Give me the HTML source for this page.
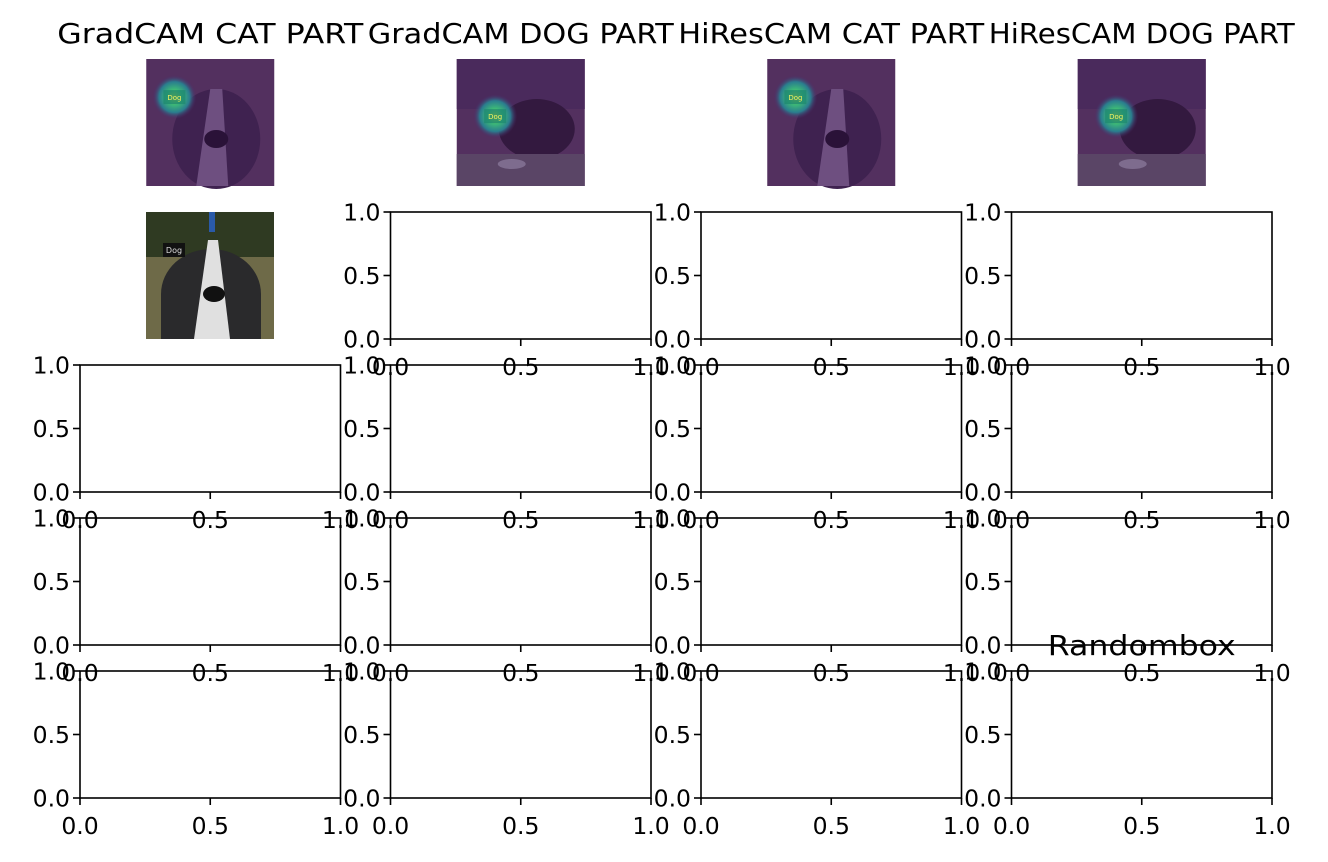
<!DOCTYPE html>
<html><head><meta charset="utf-8"><style>
html,body{margin:0;padding:0;background:#fff;}
svg{display:block;font-family:"DejaVu Sans","Liberation Sans",sans-serif;}
</style></head><body>
<svg id="fig" width="1328" height="862" viewBox="0 0 1328 862" xmlns="http://www.w3.org/2000/svg">
<defs>
<radialGradient id="heat" cx="0.5" cy="0.5" r="0.5">
<stop offset="0" stop-color="#e8e41c"/><stop offset="0.35" stop-color="#3cb878"/><stop offset="0.7" stop-color="#2a7d8e"/><stop offset="1" stop-color="#4a2a6a" stop-opacity="0"/>
</radialGradient>
</defs>
<g id="titles"></g>
<g id="images"></g>
<g id="axes"></g>
</svg>
<script>
const titles = ["GradCAM CAT PART","GradCAM DOG PART","HiResCAM CAT PART","HiResCAM DOG PART"];
const yTicks = [0.0, 0.5, 1.0];
const xTicks = [0.0, 0.5, 1.0];
const tickLabels = ["0.0","0.5","1.0"];
const colLeft = [80, 390.5, 701, 1011.5];
const rowTop = [59, 212, 365, 518, 671];
const AW = 260.5, AH = 127;
const NS = "http://www.w3.org/2000/svg";
function mk(tag, attrs, parent){const e=document.createElementNS(NS,tag);for(const k in attrs)e.setAttribute(k,attrs[k]);parent.appendChild(e);return e;}
const tg=document.getElementById('titles'), ig=document.getElementById('images'), ag=document.getElementById('axes');
titles.forEach((t,i)=>{
  const cx=colLeft[i]+AW/2;
  const e=mk('text',{x:cx,y:43,'text-anchor':'middle','font-size':28,textLength:306,lengthAdjust:'spacingAndGlyphs',fill:'#000'},tg);
  
  
  e.textContent=t;
});
const heatPos=[[0.22,0.3],[0.3,0.45],[0.22,0.3],[0.3,0.45]];
const dogScene=[true,false,true,false];
for(let i=0;i<4;i++){
  const x=colLeft[i]+AW/2-64, y=59;
  const g=mk('g',{},ig);
  
  
  mk('rect',{x:x,y:y,width:128,height:127,fill:'#53305f'},g);
  if(dogScene[i]){
    mk('ellipse',{cx:x+70,cy:y+80,rx:44,ry:50,fill:'#3f2250'},g);
    mk('path',{d:`M${x+64} ${y+30} L${x+76} ${y+30} L${x+82} ${y+127} L${x+50} ${y+127} Z`,fill:'#6e4f80'},g);
    mk('ellipse',{cx:x+70,cy:y+80,rx:12,ry:9,fill:'#2a1238'},g);
  } else {
    mk('rect',{x:x,y:y,width:128,height:50,fill:'#4a2a5c'},g);
    mk('ellipse',{cx:x+80,cy:y+70,rx:38,ry:30,fill:'#33193f'},g);
    mk('rect',{x:x,y:y+95,width:128,height:32,fill:'#5a4566'},g);
    mk('ellipse',{cx:x+55,cy:y+105,rx:14,ry:5,fill:'#7e6c8e'},g);
  }
  const hx=x+heatPos[i][0]*128, hy=y+heatPos[i][1]*127;
  mk('circle',{cx:hx,cy:hy,r:22,fill:'url(#heat)'},g);
  mk('rect',{x:hx-11,y:hy-7,width:22,height:14,fill:'#1f8a70',opacity:0.8},g);
  const lt=mk('text',{x:hx,y:hy+3,'text-anchor':'middle','font-size':7,fill:'#f0f060'},g);
  lt.textContent='Dog';
}
(function(){
  const x=146,y=212;
  const g=mk('g',{},ig);
  
  
  mk('rect',{x:x,y:y,width:128,height:127,fill:'#6e6a48'},g);
  mk('rect',{x:x,y:y,width:128,height:45,fill:'#2f3a22'},g);
  mk('rect',{x:x+63,y:y,width:6,height:20,fill:'#2a5aa8'},g);
  mk('ellipse',{cx:x+65,cy:y+82,rx:50,ry:45,fill:'#2a2a2c'},g);
  mk('rect',{x:x+15,y:y+82,width:100,height:45,fill:'#2a2a2c'},g);
  mk('path',{d:`M${x+62} ${y+28} L${x+72} ${y+28} L${x+84} ${y+127} L${x+48} ${y+127} Z`,fill:'#e0e0e0'},g);
  mk('ellipse',{cx:x+68,cy:y+82,rx:11,ry:8,fill:'#111'},g);
  mk('rect',{x:x+17,y:y+31,width:22,height:14,fill:'#111'},g);
  const lt=mk('text',{x:x+28,y:y+41,'text-anchor':'middle','font-size':8,fill:'#ddd'},g);
  lt.textContent='Dog';
})();
function drawAxes(r,c){
  const L=colLeft[c], T=rowTop[r];
  const sx=v=>L+v*AW, sy=v=>T+AH-v*AH;
  const g=mk('g',{},ag);
  
  
  mk('rect',{x:L,y:T,width:AW,height:AH,fill:'none',stroke:'#000','stroke-width':1.6},g);
  yTicks.forEach((v,i)=>{
    mk('line',{x1:L-7,x2:L,y1:sy(v),y2:sy(v),stroke:'#000','stroke-width':1.6},g);
    const t=mk('text',{x:L-10,y:sy(v)+8.5,'text-anchor':'end','font-size':23.5,fill:'#000'},g);
    t.textContent=tickLabels[i];
  });
  xTicks.forEach((v,i)=>{
    mk('line',{x1:sx(v),x2:sx(v),y1:T+AH,y2:T+AH+7,stroke:'#000','stroke-width':1.6},g);
    const t=mk('text',{x:sx(v),y:T+AH+36,'text-anchor':'middle','font-size':23.5,fill:'#000'},g);
    t.textContent=tickLabels[i];
  });
}
for(let r=1;r<5;r++)for(let c=0;c<4;c++){ if(r===1&&c===0)continue; drawAxes(r,c); }
const rb=mk('text',{x:colLeft[3]+AW/2,y:655,'text-anchor':'middle','font-size':28,textLength:188,lengthAdjust:'spacingAndGlyphs',fill:'#000'},tg);


rb.textContent='Randombox';
</script>
</body></html>
